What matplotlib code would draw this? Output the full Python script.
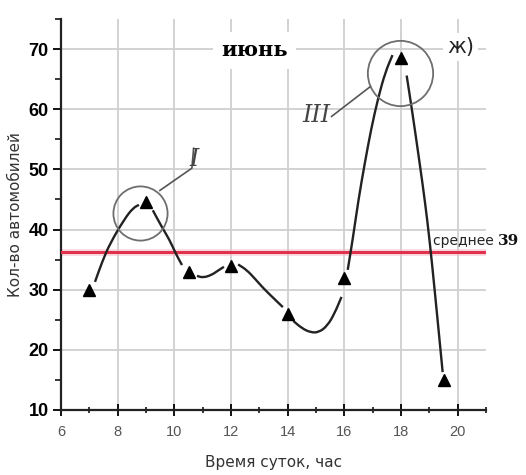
import matplotlib
matplotlib.use("Agg")
import matplotlib.pyplot as plt
from matplotlib.path import Path
from matplotlib.patches import PathPatch
from matplotlib.ticker import MultipleLocator

# измерения (час, кол-во автомобилей)
hours = [7, 9, 10.5, 12, 14, 16, 18, 19.5]
cars = [30, 44.5, 33, 34, 26, 32, 68.5, 15]
mean_level = 36.2
mean_label = "39"

curve_segments = [
    ([7.2, 7.45, 7.73, 8.26, 8.55, 8.75], [31.3, 34.6, 37.7, 41.9, 43.6, 44.1]),
    ([9.24, 9.55, 9.84, 10.05, 10.27], [43.2, 40.5, 38.2, 36.0, 34.1]),
    ([10.8, 11.0, 11.3, 11.55, 11.75], [32.3, 32.0, 32.4, 33.2, 33.8]),
    ([12.25, 12.55, 12.85, 13.15, 13.5, 13.83], [34.2, 33.3, 31.8, 30.2, 28.6, 27.1]),
    ([14.2, 14.5, 14.8, 15.1, 15.4, 15.65, 15.9], [24.8, 23.6, 22.9, 22.9, 24.0, 26.0, 28.8]),
    ([16.12, 16.3, 16.5, 16.72, 16.95, 17.2, 17.45, 17.7],
     [33.3, 38.5, 45.0, 51.0, 56.8, 62.0, 66.2, 69.0]),
    ([18.2, 18.4, 18.66, 18.85, 19.01, 19.19, 19.47],
     [65.6, 59.5, 51.0, 44.5, 38.2, 29.9, 16.3]),
]


def smooth_path(xs, ys):
    """Гладкая кривая по точкам (квадратичные Безье через середины)."""
    pts = list(zip(xs, ys))
    mid = lambda a, b: ((a[0] + b[0]) / 2, (a[1] + b[1]) / 2)
    verts = [pts[0], mid(pts[0], pts[1])]
    codes = [Path.MOVETO, Path.LINETO]
    for i in range(1, len(pts) - 1):
        verts += [pts[i], mid(pts[i], pts[i + 1])]
        codes += [Path.CURVE3, Path.CURVE3]
    verts.append(pts[-1])
    codes.append(Path.LINETO)
    return Path(verts, codes)


tick_font = ["Liberation Sans", "DejaVu Sans"]

fig = plt.figure(figsize=(5.26, 4.75), dpi=100)
fig.patch.set_facecolor("white")
ax = fig.add_axes([61 / 526, 1 - 410 / 475, 425 / 526, 391 / 475])

ax.set_xlim(6, 21)
ax.set_ylim(10, 75)
for s in ("top", "right"):
    ax.spines[s].set_visible(False)
for s in ("left", "bottom"):
    ax.spines[s].set_linewidth(1.6)
    ax.spines[s].set_color("#222222")

ax.xaxis.set_major_locator(MultipleLocator(2))
ax.xaxis.set_minor_locator(MultipleLocator(1))
ax.set_yticks([10, 20, 30, 40, 50, 60, 70])
ax.yaxis.set_minor_locator(MultipleLocator(5))
ax.grid(True, which="major", color="#cfcfcf", linewidth=1.3)
ax.set_axisbelow(True)

ax.tick_params(axis="x", which="major", direction="inout", length=9, width=1.3,
               labelsize=10.5, labelcolor="#555555", pad=6)
ax.tick_params(axis="x", which="minor", direction="inout", length=5, width=1.1)
ax.tick_params(axis="y", which="major", direction="out", length=6, width=1.3,
               labelsize=13, pad=3)
ax.tick_params(axis="y", which="minor", direction="out", length=4, width=1.1)
for lab in ax.get_xticklabels():
    lab.set_family(tick_font)
for lab in ax.get_yticklabels():
    lab.set_family(tick_font)
    lab.set_fontweight("bold")

ax.set_xlabel("Время суток, час", fontsize=11, color="#333333", labelpad=12)
ax.set_ylabel("Кол-во автомобилей", fontsize=11, color="#333333")
ax.yaxis.set_label_coords(-0.09, 0.5)

# средняя линия
ax.axhline(mean_level, color="#f4b8c4", linewidth=5, alpha=0.5, zorder=2)
ax.axhline(mean_level, color="#e0324c", linewidth=2.2, zorder=3)
t = ax.text(19.12, mean_level + 0.7, "среднее ", fontsize=10, color="#222222",
            va="bottom", ha="left")
ax.annotate(mean_label, xy=(1, 0), xycoords=t, va="bottom", ha="left",
            fontsize=11, fontweight="bold", family="DejaVu Serif", color="#111111")

# кривая и точки
for xs, ys in curve_segments:
    ax.add_patch(PathPatch(smooth_path(xs, ys), fill=False, edgecolor="#222222",
                           linewidth=1.7, zorder=4))
ax.plot(hours, cars, linestyle="none", marker="^", markersize=9, color="black", zorder=5)

# выделенные максимумы
circle_style = dict(linestyle="none", marker="o", fillstyle="none",
                    markeredgecolor="#6e6e6e", markeredgewidth=1.3, zorder=4)
ax.plot(hours[1] - 0.21, cars[1] - 1.8, markersize=39, **circle_style)
ax.plot(hours[6] - 0.05, cars[6] - 2.4, markersize=47, **circle_style)

ax.plot([9.49, 10.62, 10.68], [46.5, 50.2, 53.5], color="#555555", linewidth=1.2, zorder=4)
ax.text(10.68, 51.6, "I", fontsize=17, style="italic", family="DejaVu Serif",
        color="#444444", ha="center", va="center", zorder=5)
ax.plot([15.55, 16.9], [58.8, 63.7], color="#555555", linewidth=1.2, zorder=4)
ax.text(15.0, 59.0, "III", fontsize=17, style="italic", family="DejaVu Serif",
        color="#444444", ha="center", va="center", zorder=5)

# подписи
ax.text(12.84, 69.8, "июнь", fontsize=15, fontweight="bold", family="DejaVu Serif",
        ha="center", va="center", zorder=6,
        bbox=dict(facecolor="white", edgecolor="none", pad=6))
ax.text(20.1, 70.3, "ж)", fontsize=15, color="#222222", ha="center", va="center",
        zorder=6, bbox=dict(facecolor="white", edgecolor="none", pad=3))

fig.savefig("out.png", dpi=100)
